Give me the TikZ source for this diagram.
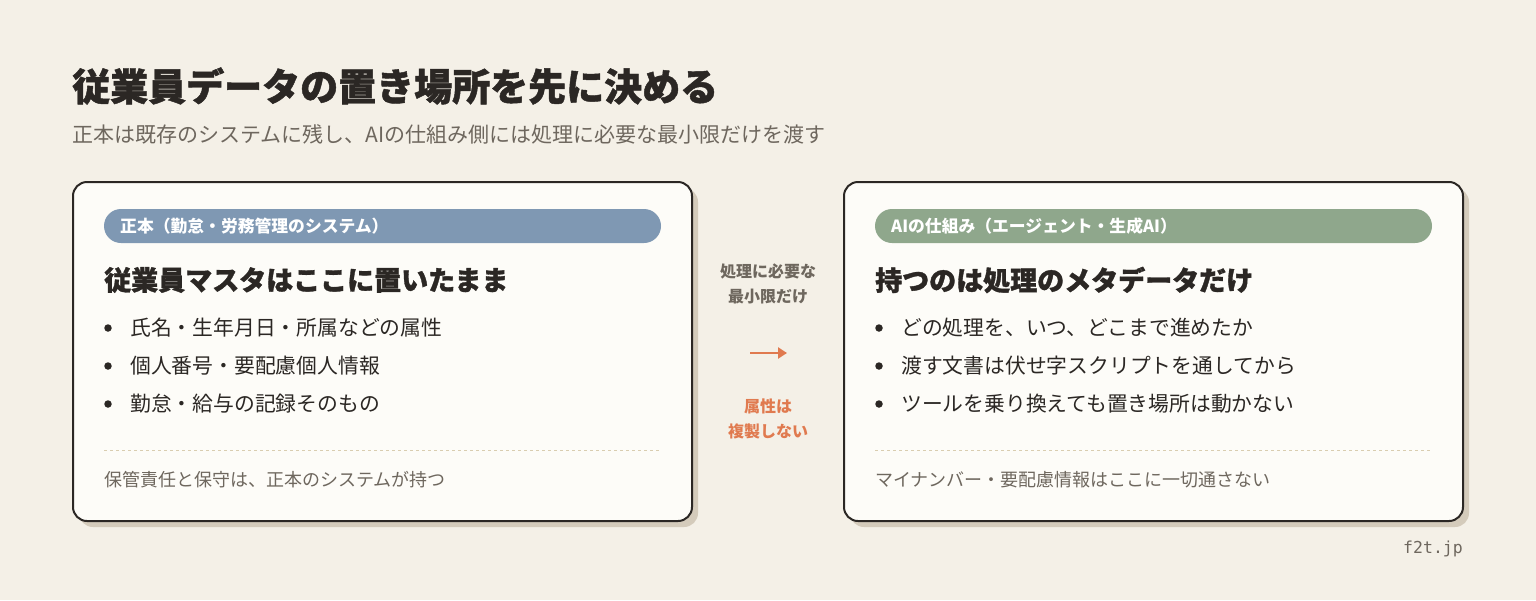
\documentclass[tikz,border=0pt]{standalone}
\usepackage{fontspec}
\setmainfont{Noto Sans CJK JP}
\newfontfamily\heavyfont[BoldFeatures={FakeBold=1.2}]{Noto Sans CJK JP}
\newfontfamily\sitefont{DejaVu Sans Mono}
\usepackage{xcolor}
\usetikzlibrary{positioning}
\usetikzlibrary{arrows.meta}

\definecolor{bgcream}{HTML}{F4F0E7}
\definecolor{inkdark}{HTML}{2B2724}
\definecolor{cardfill}{HTML}{FDFCF8}
\definecolor{shadowtan}{HTML}{D4CBBB}
\definecolor{pillblue}{HTML}{7F98B3}
\definecolor{pillgreen}{HTML}{8FA78C}
\definecolor{softgray}{HTML}{6E675E}
\definecolor{accentorange}{HTML}{E07A4F}
\definecolor{ruletan}{HTML}{D9CDB0}

\newcommand{\pxsize}[1]{\fontsize{#1}{#1}\selectfont}

\begin{document}
\begin{tikzpicture}[x=1pt, y=-1pt,
  title/.style={anchor=west, inner sep=0, text=inkdark, font=\heavyfont\pxsize{38}\bfseries},
  subtitle/.style={anchor=west, inner sep=0, text=softgray, font=\pxsize{21}},
  card/.style={draw=inkdark, line width=2pt, fill=cardfill, rounded corners=14},
  cardshadow/.style={fill=shadowtan, rounded corners=14},
  pilltext/.style={anchor=west, inner sep=0, text=white, font=\pxsize{16.8}\bfseries},
  heading/.style={anchor=west, inner sep=0, text=inkdark, font=\heavyfont\pxsize{27}\bfseries},
  item/.style={anchor=west, inner sep=0, text=inkdark, font=\pxsize{20.8}},
  dot/.style={circle, fill=inkdark, inner sep=0, minimum size=7.5pt},
  footnote/.style={anchor=west, inner sep=0, text=softgray, font=\pxsize{18}},
  midnote/.style={inner sep=0, font=\pxsize{16}\bfseries, align=center}
  ]
\fill[bgcream] (0,0) rectangle (1536,600);
\useasboundingbox (0,0) rectangle (1536,600);

% heading
\node[title] (maintitle) at (72,86) {従業員データの置き場所を先に決める};
\node[subtitle] (subline) at (72,134) {正本は既存のシステムに残し、AIの仕組み側には処理に必要な最小限だけを渡す};

% left card
\fill[cardshadow] (79,188) rectangle (698,527);
\draw[card] (73,182) rectangle (692,521);
\fill[pillblue, rounded corners=17] (104,209) rectangle (661,243);
\node[pilltext] (leftpill) at (120,226) {正本（勤怠・労務管理のシステム）};
\node[heading] (lefthead) at (104,280) {従業員マスタはここに置いたまま};

\node[dot] (ldot1) at (108,328) {};
\node[item] (litem1) at (130,328) {氏名・生年月日・所属などの属性};
\node[dot] (ldot2) at (108,366) {};
\node[item] (litem2) at (130,366) {個人番号・要配慮個人情報};
\node[dot] (ldot3) at (108,404) {};
\node[item] (litem3) at (130,404) {勤怠・給与の記録そのもの};

\draw[ruletan, dashed, line width=0.8pt] (104,450) -- (661,450);
\node[footnote] (leftfoot) at (104,480) {保管責任と保守は、正本のシステムが持つ};

% right card
\fill[cardshadow] (850,188) rectangle (1469,527);
\draw[card] (844,182) rectangle (1463,521);
\fill[pillgreen, rounded corners=17] (875,209) rectangle (1432,243);
\node[pilltext] (rightpill) at (891,226) {AIの仕組み（エージェント・生成AI）};
\node[heading] (righthead) at (875,280) {持つのは処理のメタデータだけ};

\node[dot] (rdot1) at (879,328) {};
\node[item] (ritem1) at (901,328) {どの処理を、いつ、どこまで進めたか};
\node[dot] (rdot2) at (879,366) {};
\node[item] (ritem2) at (901,366) {渡す文書は伏せ字スクリプトを通してから};
\node[dot] (rdot3) at (879,404) {};
\node[item] (ritem3) at (901,404) {ツールを乗り換えても置き場所は動かない};

\draw[ruletan, dashed, line width=0.8pt] (875,450) -- (1432,450);
\node[footnote] (rightfoot) at (875,480) {マイナンバー・要配慮情報はここに一切通さない};

% middle
\node[midnote, text=softgray] (passnote) at (768,284) {処理に必要な\\[9pt]最小限だけ};
\coordinate (flowstart) at (750,353);
\coordinate (flowend) at (787,353);
\draw[accentorange, line width=2.5pt, -{Triangle[length=9pt, width=11pt]}] (flowstart) -- (flowend);
\node[midnote, text=accentorange] (copynote) at (768,419) {属性は\\[9pt]複製しない};

\node[anchor=east, inner sep=0, text=softgray, font=\sitefont\pxsize{16.5}] (site) at (1463,549) {f2t.jp};

\end{tikzpicture}
\end{document}
